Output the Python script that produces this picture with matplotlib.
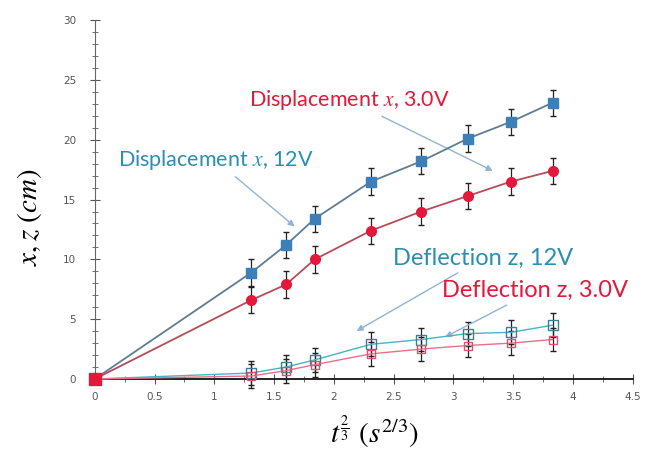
import matplotlib.pyplot as plt
import numpy as np

plt.rcParams['mathtext.fontset'] = 'stix'

# t^(2/3) values (s^(2/3))
t23 = [0.0, 1.31, 1.60, 1.84, 2.31, 2.73, 3.12, 3.48, 3.83]

# displacement x (cm)
x_12v = [0.0, 8.9, 11.2, 13.4, 16.5, 18.2, 20.1, 21.5, 23.1]
x_3v = [0.0, 6.6, 7.9, 10.0, 12.4, 14.0, 15.3, 16.5, 17.4]
# deflection z (cm)
z_12v = [0.0, 0.5, 1.0, 1.6, 2.9, 3.3, 3.8, 3.9, 4.5]
z_3v = [0.0, 0.25, 0.7, 1.2, 2.1, 2.5, 2.8, 3.0, 3.3]

err_x = [0.0, 1.1, 1.1, 1.1, 1.1, 1.1, 1.1, 1.1, 1.1]
err_z = [0.0, 1.0, 1.0, 1.0, 1.0, 1.0, 1.0, 1.0, 1.0]

blue = '#3d7fb8'
teal = '#2a8fb0'
red = '#e3183a'

fig = plt.figure(figsize=(6.49, 4.58), dpi=100)
ax = fig.add_axes([0.146, 0.1725, 0.829, 0.7835])

# deflection series (open squares)
ax.errorbar(t23, z_12v, yerr=err_z, color='#45b5c5', lw=1.0, marker='s', ms=7,
            mfc='none', mec='#3a7f95', mew=1.0, ecolor='#222222', elinewidth=0.9,
            capsize=2.5, clip_on=False, zorder=3)
ax.errorbar(t23, z_3v, yerr=err_z, color='#e8708a', lw=1.0, marker='s', ms=6,
            mfc='none', mec='#e05070', mew=1.0, ecolor='#222222', elinewidth=0.9,
            capsize=2.5, clip_on=False, zorder=3)

# displacement series (filled)
ax.errorbar(t23, x_12v, yerr=err_x, color='#5f7d92', lw=1.3, marker='s', ms=7,
            mfc=blue, mec=blue, ecolor='#222222', elinewidth=0.9,
            capsize=2.5, clip_on=False, zorder=4)
ax.errorbar(t23, x_3v, yerr=err_x, color='#b84a5a', lw=1.3, marker='o', ms=7,
            mfc=red, mec=red, ecolor='#222222', elinewidth=0.9,
            capsize=2.5, clip_on=False, zorder=4)
ax.plot([t23[0]], [x_3v[0]], marker='s', ms=8, color=red, clip_on=False, zorder=6)

ax.set_xlim(0, 4.5)
ax.set_ylim(0, 30)
ax.set_xticks(np.arange(0, 4.51, 0.5))
ax.set_xticklabels(['0', '0.5', '1', '1.5', '2', '2.5', '3', '3.5', '4', '4.5'])
ax.set_yticks(np.arange(0, 31, 5))
ax.set_xticks(np.arange(0, 4.51, 0.25), minor=True)
ax.set_yticks(np.arange(0, 31, 1), minor=True)

for s in ['top', 'right']:
    ax.spines[s].set_visible(False)
ax.spines['left'].set_color('#666666')
ax.spines['left'].set_linewidth(0.8)
ax.spines['bottom'].set_color('#222222')
ax.spines['bottom'].set_linewidth(1.4)
ax.tick_params(axis='both', which='both', direction='inout', colors='#555555',
               labelsize=7.5, labelcolor='#555555')
ax.tick_params(axis='both', which='major', length=7, width=0.8)
ax.tick_params(axis='both', which='minor', length=4, width=0.6)
ax.tick_params(axis='x', pad=6)
ax.tick_params(axis='y', pad=10)

ax.set_ylabel(r'$x, z\ (cm)$', fontsize=21)
ax.yaxis.set_label_coords(-0.095, 0.45)
ax.set_xlabel(r'$t^{\frac{2}{3}}\ (s^{2/3})$', fontsize=21)
ax.xaxis.set_label_coords(0.52, -0.095)
ax.xaxis.label.set_va('top')

arrow = dict(arrowstyle='-|>', color='#8fb4d4', lw=1.0, mutation_scale=9)
fnt = dict(fontsize=15.5, family='Lato')
fnt_z = dict(fontsize=17, family='Lato')

ax.annotate(r'Displacement $x$, 3.0V', xy=(3.35, 17.3), xytext=(2.13, 23.3),
            ha='center', va='center', color=red, arrowprops=arrow, **fnt)
ax.annotate(r'Displacement $x$, 12V', xy=(1.69, 12.6), xytext=(1.01, 18.3),
            ha='center', va='center', color=teal, arrowprops=arrow, **fnt)
ax.annotate('Deflection z, 12V', xy=(2.17, 3.9), xytext=(3.25, 10.1),
            ha='center', va='center', color=teal, arrowprops=arrow, **fnt_z)
ax.annotate('Deflection z, 3.0V', xy=(2.91, 3.4), xytext=(3.68, 7.4),
            ha='center', va='center', color=red, arrowprops=arrow, **fnt_z)

fig.savefig('out.png', dpi=100)
